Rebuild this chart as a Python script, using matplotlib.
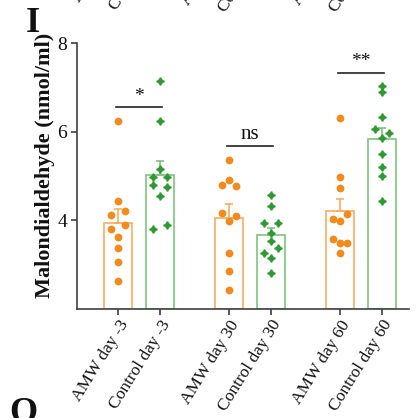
import numpy as np
import matplotlib
matplotlib.use("Agg")
import matplotlib.pyplot as plt

plt.rcParams['font.family'] = ['Liberation Serif', 'DejaVu Serif']

# ---------------- data ----------------
categories = ["AMW day -3", "Control day -3", "AMW day 30",
              "Control day 30", "AMW day 60", "Control day 60"]
amw_day_m3 = [6.24, 4.44, 4.11, 4.20, 3.80, 3.89, 3.62, 3.37, 3.07, 2.63]
ctrl_day_m3 = [7.15, 6.23, 5.16, 4.98, 4.98, 4.79, 4.75, 4.55, 3.80, 3.89]
amw_day_30 = [5.36, 4.90, 4.79, 4.78, 4.17, 4.10, 3.98, 3.26, 2.85, 2.42]
ctrl_day_30 = [4.57, 4.32, 3.94, 3.94, 3.71, 3.54, 3.27, 3.37, 3.15, 2.81]
amw_day_60 = [6.31, 4.97, 4.72, 4.04, 4.14, 3.98, 3.49, 3.59, 3.50, 3.26]
ctrl_day_60 = [7.04, 6.89, 6.33, 6.07, 5.97, 5.86, 5.50, 5.20, 4.99, 4.44]
series = [amw_day_m3, ctrl_day_m3, amw_day_30, ctrl_day_30, amw_day_60, ctrl_day_60]

sig_pairs = [(0, 1), (2, 3), (4, 5)]
sig_labels = ["*", "ns", "**"]
sig_levels = [6.55, 5.67, 7.33]

yticks = [4, 6, 8]

# ---------------- style ----------------
ORANGE_PT = "#F28A1C"
ORANGE_BAR = "#F6AE66"
GREEN_PT = "#2E9A30"
GREEN_BAR = "#7DC47D"
AX_COL = "#404040"

W, H = 420, 418
fig = plt.figure(figsize=(W / 100, H / 100), dpi=100)
ax_l, ax_r, ax_b, ax_t = 77, 409, 309, 43
rect = [ax_l / W, 1 - ax_b / H, (ax_r - ax_l) / W, (ax_b - ax_t) / H]
ax = fig.add_axes(rect)

# x positions: two bars per group, with a gap between groups
group_step = 2.645
positions = [g * group_step + k for g in range(3) for k in range(2)]
unit_px = 42.0
x_left = positions[0] - (118 - ax_l) / unit_px
x_right = x_left + (ax_r - ax_l) / unit_px

bar_w = 0.66
slot = 0.16
row_h = 0.145


def swarm_offsets(vals):
    vals = np.asarray(vals, float)
    order = np.argsort(-vals, kind="stable")
    rows = []
    for i in order:
        if rows and vals[rows[-1][0]] - vals[i] < row_h:
            rows[-1].append(i)
        else:
            rows.append([i])
    offs = np.zeros(len(vals))
    patterns = {1: [0], 2: [-1, 1], 3: [0, -1, 1], 4: [-1.5, -0.5, 0.5, 1.5]}
    for r in rows:
        r = sorted(r)
        for idx, s in zip(r, patterns[len(r)]):
            offs[idx] = s * slot
    return offs


for i, (pos, vals) in enumerate(zip(positions, series)):
    is_amw = i % 2 == 0
    bar_col = ORANGE_BAR if is_amw else GREEN_BAR
    pt_col = ORANGE_PT if is_amw else GREEN_PT
    v = np.asarray(vals)
    mean = v.mean()
    sem = v.std(ddof=1) / np.sqrt(len(v))
    ax.bar(pos, mean - 2, bottom=2, width=bar_w, facecolor="white",
           edgecolor=bar_col, linewidth=1.2, zorder=2)
    ax.errorbar(pos, mean, yerr=[[0], [sem]], color=bar_col, capsize=3.0,
                elinewidth=1.2, capthick=1.2, zorder=3)
    offs = swarm_offsets(v)
    if is_amw:
        ax.plot(pos + offs, v, "o", ms=5.6, color=pt_col, mec="none", zorder=4)
    else:
        ax.plot(pos + offs, v, "D", ms=4.0, color=pt_col, mec="none", zorder=4)
        ax.plot(pos + offs, v, "P", ms=6.0, color=pt_col, mec="none", zorder=4)

for (a, b), lab, lvl in zip(sig_pairs, sig_labels, sig_levels):
    x0, x1 = positions[a] - 0.05, positions[b] + 0.05
    ax.plot([x0, x1], [lvl, lvl], color="#222222", lw=1.2, zorder=5)
    ax.text((x0 + x1) / 2, lvl + 0.05, lab, ha="center", va="bottom",
            fontsize=14 if lab != "ns" else 15, color="#111111")

ax.set_xlim(x_left, x_right)
ax.set_ylim(2, 8)
ax.set_yticks(yticks)
ax.set_yticklabels([str(t) for t in yticks], fontsize=14)
ax.set_xticks(positions)
ax.set_xticklabels(categories, rotation=58, ha="right",
                   rotation_mode="anchor", fontsize=12.5)
for s in ["top", "right"]:
    ax.spines[s].set_visible(False)
for s in ["left", "bottom"]:
    ax.spines[s].set_color(AX_COL)
    ax.spines[s].set_linewidth(1.2)
ax.tick_params(axis="both", colors=AX_COL, length=4, width=1.2,
               labelcolor="#111111", pad=3)
ax.tick_params(axis="x", pad=2)

fig.text(45 / W, 1 - 165 / H, "Malondialdehyde (nmol/ml)", rotation=90,
         ha="center", va="center", fontsize=16, fontweight="bold",
         color="#111111")

# neighbouring panel remnants (cropped in the source image)
shift = 399
rect2 = [ax_l / W, 1 - (ax_b - shift) / H, (ax_r - ax_l) / W, (ax_b - ax_t) / H]
ax2 = fig.add_axes(rect2)
ax2.set_xlim(x_left, x_right)
ax2.set_xticks(positions)
ax2.set_xticklabels(categories, rotation=58, ha="right",
                    rotation_mode="anchor", fontsize=12.5)
ax2.set_yticks([])
for s in ax2.spines.values():
    s.set_visible(False)
ax2.tick_params(axis="x", length=4, color="none", pad=2, labelcolor="#111111")
ax2.patch.set_alpha(0)

fig.text(26 / W, 1 - 32 / H, "I", fontsize=26, fontweight="bold",
         va="baseline", ha="left", color="#111111")
fig.text(9 / W, 1 - 422 / H, "O", fontsize=26, fontweight="bold",
         va="baseline", ha="left", color="#111111")

fig.savefig("out.png", dpi=100)
